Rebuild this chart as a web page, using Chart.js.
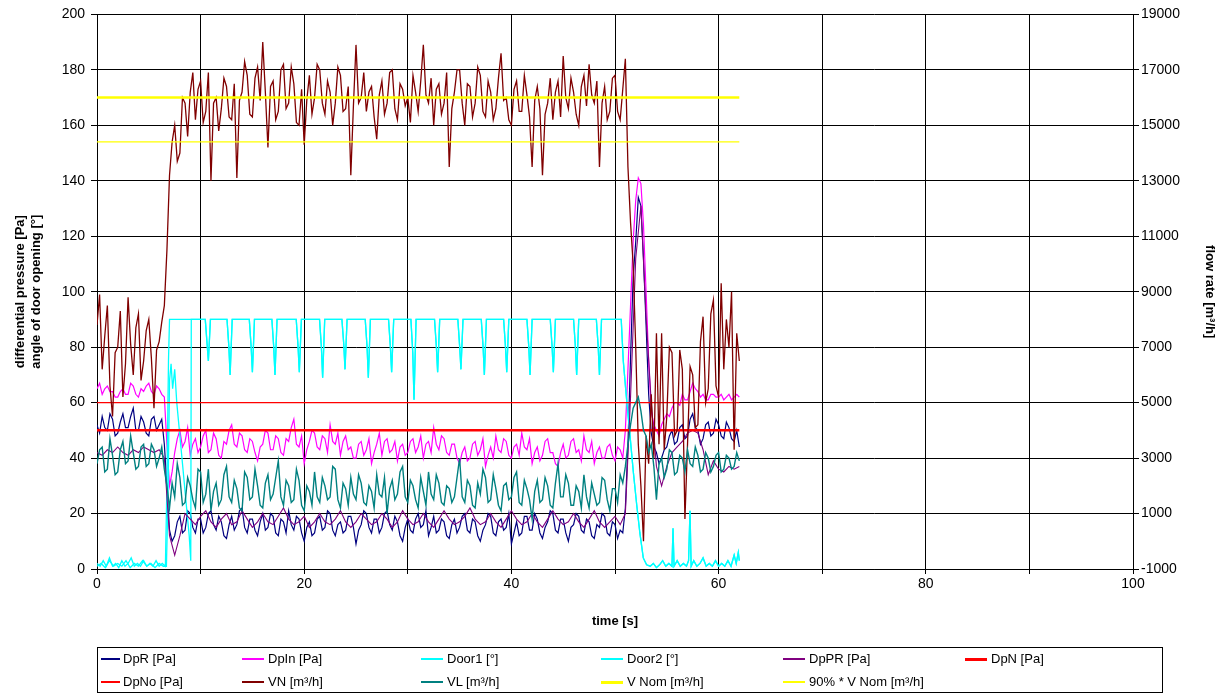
<!DOCTYPE html>
<html>
<head>
<meta charset="utf-8">
<script src="https://cdn.jsdelivr.net/npm/chart.js@4.4.1/dist/chart.umd.min.js"></script>
<style>
  body { margin: 0; background: #fff; }
  #wrap { position: relative; width: 1230px; height: 694px; }
  #legend {
    position: absolute; left: 97px; top: 647px; width: 1064px; height: 44px;
    border: 1px solid #000; box-sizing: content-box;
    font: 13px "Liberation Sans", Arial, sans-serif; color: #000;
  }
  .sample { position: absolute; }
  .label { position: absolute; line-height: 16px; white-space: nowrap; }
</style>
</head>
<body>
<div id="wrap">
  <canvas id="chart" width="1230" height="694"></canvas>
  <div id="legend"></div>
</div>
<script>
// sampling steps of the measured series, seconds
const fineStep = 0.25;
const coarseStep = 0.5;

// pressure readings [Pa], every 0.25 s from 0 to 62 s
const dpR = [
  52, 49, 55, 51, 50, 56, 54, 48, 49, 53, 56, 51, 51, 55, 58, 50, 50, 55, 53, 49,
  48, 54, 55, 50, 52, 54, 45, 30, 14, 10, 12, 17, 19, 13, 14, 21, 20, 15, 13, 18,
  18, 13, 15, 20, 21, 16, 14, 19, 17, 12, 11, 16, 19, 14, 16, 21, 22, 15, 13, 18,
  18, 14, 12, 17, 20, 14, 15, 20, 19, 13, 12, 18, 17, 13, 21, 16, 14, 19, 18, 13,
  10, 15, 17, 12, 13, 18, 19, 14, 15, 21, 20, 14, 12, 16, 17, 13, 14, 19, 19, 15,
  9, 14, 16, 21, 20, 15, 13, 18, 18, 13, 15, 20, 21, 16, 14, 19, 17, 12, 10, 15,
  18, 14, 13, 18, 20, 15, 16, 21, 12, 15, 19, 13, 14, 18, 17, 12, 11, 16, 18, 13,
  15, 19, 20, 14, 13, 18, 17, 12, 10, 14, 16, 20, 19, 13, 12, 17, 18, 14, 15, 20,
  9, 13, 17, 12, 13, 19, 19, 14, 14, 20, 18, 13, 11, 15, 17, 21, 20, 14, 13, 18,
  18, 13, 10, 15, 16, 20, 19, 14, 13, 18, 17, 12, 11, 16, 15, 20, 19, 13, 12, 17,
  16, 11, 14, 13, 22, 45, 76, 105, 118, 134, 131, 112, 88, 63, 49, 44, 42, 38, 40, 43,
  44, 48, 50, 45, 46, 51, 52, 47, 48, 54, 56, 51, 50, 45, 47, 52, 53, 48, 49, 54,
  52, 48, 47, 53, 51, 47, 46, 50, 44
];
const dpIn = [
  65, 67, 63, 65, 66, 64, 64, 62, 62, 64, 65, 63, 63, 67, 66, 63, 62, 65, 64, 66,
  67, 64, 63, 66, 65, 63, 62, 45, 30, 35, 42, 47, 50, 44, 46, 51, 41, 45, 47, 42,
  44, 48, 50, 42, 43, 49, 47, 41, 40, 46, 45, 50, 52, 45, 44, 49, 48, 43, 42, 47,
  46, 42, 39, 44, 45, 50, 49, 43, 43, 48, 47, 42, 41, 47, 46, 51, 54, 45, 44, 48,
  38, 43, 46, 50, 49, 44, 43, 48, 47, 42, 52, 46, 45, 49, 41, 46, 48, 43, 44, 40,
  40, 45, 46, 41, 43, 47, 38, 42, 45, 49, 41, 46, 47, 42, 43, 46, 39, 44, 45, 41,
  42, 46, 47, 42, 44, 48, 40, 45, 46, 42, 51, 45, 43, 48, 47, 42, 41, 45, 45, 40,
  38, 42, 44, 39, 40, 45, 46, 41, 43, 47, 37, 41, 44, 40, 48, 43, 42, 47, 46, 41,
  40, 44, 45, 41, 49, 44, 43, 47, 38, 42, 44, 39, 41, 46, 47, 42, 42, 38, 37, 42,
  45, 40, 41, 46, 47, 42, 43, 39, 48, 43, 42, 46, 38, 42, 44, 40, 40, 44, 45, 41,
  39, 44, 43, 40, 50, 72, 95, 118, 133, 141, 139, 124, 100, 75, 57, 52, 50, 48, 52, 54,
  56, 55, 58, 60, 60, 59, 63, 61, 61, 64, 67, 65, 64, 62, 63, 61, 61, 63, 63, 62,
  62, 63, 61, 62, 63, 61, 62, 63, 62
];
// smoother pressure signal, every 0.5 s
const dpPR = [
  42, 41, 43, 42, 44, 42, 41, 43, 42, 44,
  43, 42, 43, 40, 12, 5, 12, 20, 18, 16,
  19, 21, 17, 15, 18, 20, 16, 17, 21, 18,
  15, 17, 20, 17, 16, 19, 22, 18, 16, 17,
  19, 15, 17, 20, 17, 16, 18, 21, 17, 15,
  17, 20, 18, 16, 17, 20, 18, 15, 17, 21,
  18, 16, 17, 20, 17, 15, 18, 21, 18, 16,
  17, 19, 22, 18, 16, 17, 20, 17, 15, 18,
  21, 18, 16, 17, 20, 17, 15, 18, 21, 18,
  16, 17, 20, 17, 15, 18, 21, 17, 15, 17,
  19, 16, 20, 62, 112, 131, 91, 60, 37, 30,
  37, 42, 44, 46, 49, 50, 49, 43, 34, 39,
  36, 35, 37, 36, 37
];

// flow readings [m³/h], every 0.25 s
const vn = [
  7800, 8900, 6200, 7400, 8500, 5600, 4500, 6800, 7000, 8300, 5200, 6400, 8800, 7100, 6000, 7700, 8200, 5800, 6500, 7600,
  8000, 6600, 4800, 6900, 7200, 7900, 8500, 10500, 13200, 14400, 15000, 13700, 14000, 16000, 15800, 14600, 16200, 16900, 15200, 16300,
  16600, 15100, 15500, 16900, 13000, 15800, 16000, 14800, 15600, 16700, 16400, 15300, 15200, 16500, 13100, 15900, 16200, 17300, 16800, 15400,
  15300, 16700, 17100, 15900, 18000, 16200, 14200, 16400, 16600, 15200, 15500, 17000, 17200, 15600, 15800, 17100, 16500, 15100, 15000, 16300,
  14300, 15900, 16800, 15400, 16000, 17200, 17000, 15800, 15400, 16600, 16200, 15000, 15800, 17100, 16800, 15500, 15600, 16400, 13200, 15700,
  17900, 15800, 16000, 16900, 15500, 16200, 16400, 15300, 14500, 16100, 16600, 15400, 15800, 16900, 17000, 15600, 15200, 16500, 16300, 15700,
  16000, 15100, 16800, 16200, 15500, 16600, 17900, 16100, 15800, 16700, 15000, 16300, 16500, 15400, 15800, 16900, 13500, 15600, 16200, 17000,
  17000, 15800, 15000, 16500, 16400, 15300, 15800, 17100, 16800, 15500, 15300, 16600, 16200, 15200, 15600, 16700, 17600, 15900, 16000, 15200,
  15000, 16300, 16600, 15500, 15500, 16800, 16100, 15300, 13500, 15900, 16400, 15600, 13200, 15400, 15800, 16700, 15200, 16200, 16600, 15300,
  17500, 16000, 15600, 16700, 16200, 15400, 15000, 16400, 16800, 15700, 17200, 16100, 15800, 16600, 13500, 15800, 16400, 15200, 15500, 16700,
  16800, 15500, 15200, 16300, 17400, 13500, 11500, 10000, 7000, 3500, 2000, 0, 3800, 2800, 5300, 3000, 7500, 3500, 7500, 3300,
  4500, 7000, 6800, 3800, 4000, 6900, 6200, 800, 3500, 6300, 6000, 4100, 4200, 7200, 8100, 5000, 5500, 8200, 8700, 5600,
  5200, 9300, 6200, 8000, 7000, 9000, 3300, 7500, 6500
];
const vl = [
  2800, 3300, 3400, 2500, 2600, 3700, 3100, 2400, 2500, 3300, 3600, 2800, 2900, 3800, 3200, 2600, 2700, 3400, 3500, 2700,
  2800, 3500, 3300, 2700, 3000, 3400, 2600, 2000, 1200, 2100, 1600, 2800, 2300, 1300, 1400, 2300, 2000, 1500, 1200, 2600,
  2500, 1400, 1700, 2600, 1100, 1800, 2100, 1300, 1500, 2400, 2700, 1600, 1400, 2200, 1900, 1200, 1100, 2500, 2300, 1500,
  1600, 2600, 2000, 1300, 1200, 2100, 2400, 1500, 1700, 2300, 2900, 1600, 1300, 2200, 2000, 1400, 1500, 2600, 2200, 1300,
  1100, 2000, 1800, 1300, 2500, 1600, 1400, 2300, 2000, 1500, 1600, 2700, 2600, 1500, 1200, 2100, 1900, 1300, 2300, 1700,
  1500, 2400, 2100, 1400, 1300, 2000, 1800, 1200, 2400, 1700, 1600, 2300, 1000, 1900, 2200, 1500, 1700, 2500, 2700, 1600,
  1400, 2200, 2000, 1500, 1200, 2300, 1800, 1300, 2500, 1700, 1500, 2400, 2100, 1400, 1300, 2000, 1900, 1400, 1600, 2300,
  3000, 1600, 1400, 2200, 2000, 1300, 1200, 2100, 1700, 2600, 2300, 1400, 1500, 2400, 1900, 1300, 1100, 2000, 2100, 1500,
  1600, 2300, 2500, 1400, 1300, 2200, 1900, 1500, 800, 1800, 2200, 1400, 1500, 2300, 2000, 1300, 1200, 2100, 2800, 1600,
  1600, 2400, 2100, 1300, 1300, 2000, 1800, 1200, 2400, 1600, 1200, 2100, 1700, 1300, 1400, 2300, 2200, 1500, 1100, 1900,
  1900, 1400, 2400, 2100, 2700, 3500, 4200, 4800, 5000, 5200, 4700, 4000, 3800, 3200, 3500, 2700, 1500, 2800, 3000, 2300,
  2600, 3300, 3200, 2400, 2500, 3100, 3000, 2500, 3300, 2800, 2700, 3400, 3100, 2500, 2600, 3200, 3000, 2500, 2700, 3100,
  3200, 2500, 2600, 3100, 3000, 2600, 2700, 3200, 2900
];

// door angles [°], read at their own break points
const door1Time = [
  0, 0.3, 0.6, 0.9, 1.2, 1.5, 1.8, 2.1, 2.4, 2.7, 3, 3.3, 3.6,
  3.9, 4.2, 4.5, 4.8, 5.1, 5.4, 5.7, 6, 6.3, 6.6, 6.75, 6.9, 7,
  10.45, 10.63, 10.75, 10.95,
  12.55, 12.73, 12.85, 13.05,
  14.7, 14.88, 15, 15.2,
  16.88, 17.06, 17.18, 17.38,
  19.23, 19.41, 19.53, 19.73,
  21.48, 21.66, 21.78, 21.98,
  23.64, 23.82, 23.94, 24.14,
  25.89, 26.07, 26.19, 26.39,
  28.14, 28.32, 28.44, 28.64,
  30.3, 30.48, 30.6, 30.8,
  32.58, 32.76, 32.88, 33.08,
  34.83, 35.01, 35.13, 35.33,
  37.09, 37.27, 37.39, 37.59,
  39.25, 39.43, 39.55, 39.75,
  41.5, 41.68, 41.8, 42,
  43.75, 43.93, 44.05, 44.25,
  46, 46.18, 46.3, 46.5,
  48.2, 48.38, 48.5, 48.7,
  50.6, 50.8, 51.1, 51.45, 51.77, 52.1, 52.4, 52.73, 53.05,
  53.4, 53.7, 54, 54.3, 54.6, 54.9, 55.2, 55.5, 55.6, 55.7,
  56, 56.3, 56.6, 56.9, 57.1, 57.24, 57.35, 57.6, 57.9, 58.2,
  58.5, 58.8, 59.1, 59.4, 59.7, 60, 60.3, 60.6, 60.9, 61.2,
  61.5, 61.7, 61.9, 62
];
const door1Angle = [
  2, 1, 3, 1, 4, 1, 2, 0.5, 3, 1, 2, 4, 1,
  2, 1, 3, 1, 2, 1, 3, 1, 2, 1, 30, 75, 90,
  90, 81, 75, 90,
  90, 80, 70, 90,
  90, 80, 71, 90,
  90, 80, 70, 90,
  90, 80, 71, 90,
  90, 80, 69, 90,
  90, 81, 72, 90,
  90, 80, 69, 90,
  90, 80, 71, 90,
  90, 78, 61, 90,
  90, 80, 71, 90,
  90, 80, 72, 90,
  90, 80, 70, 90,
  90, 80, 71, 90,
  90, 80, 70, 90,
  90, 80, 71, 90,
  90, 80, 70, 90,
  90, 80, 70, 90,
  90, 75, 62, 48, 35, 23, 13, 4, 1.5,
  1, 2, 0.5, 1.5, 3, 1, 2, 1, 14.7, 1,
  3, 1, 2, 1, 3, 21, 1, 3, 1, 2,
  4, 1, 2, 1, 3, 1, 2, 1, 3, 1,
  5, 2, 6, 3
];
const door2Time = [
  0, 0.4, 0.8, 1.2, 1.6, 2, 2.4, 2.8, 3.2, 3.6, 4, 4.4, 4.8, 5.2, 5.6,
  6, 6.4, 6.7, 6.85, 7, 7.15, 7.3, 7.5, 7.7, 8, 8.3, 8.6, 8.9, 9.05, 9.1
];
const door2Angle = [
  1, 2, 0.5, 3, 1, 2, 1, 3, 0.5, 2, 1, 3, 1, 2, 0.5,
  2, 1, 1, 25, 68, 74, 65, 72, 60, 48, 36, 24, 12, 3, 90
];

// nominal limits, drawn from start to end of the record
const limitTime = [0, 62];
const dpN = [50, 50];
const dpNo = [60, 60];
const vNom = [16000, 16000];
const vNom90 = [14400, 14400];

const timeFine = dpR.map((_, i) => i * fineStep);
const timeCoarse = dpPR.map((_, i) => i * coarseStep);

function pts(t, v) {
  return t.map((x, i) => ({ x: x, y: v[i] }));
}

// door 2 follows door 1 once both are open
const door2Pts = pts(door2Time, door2Angle).concat(
  pts(door1Time, door1Angle).filter(p => p.x > 9.1)
);

const series = [
  { label: "DpR [Pa]", data: pts(timeFine, dpR), borderColor: "#000080", borderWidth: 1.2, yAxisID: "y" },
  { label: "DpIn [Pa]", data: pts(timeFine, dpIn), borderColor: "#FF00FF", borderWidth: 1.2, yAxisID: "y" },
  { label: "Door1 [°]", data: pts(door1Time, door1Angle), borderColor: "#00FFFF", borderWidth: 1.3, yAxisID: "y" },
  { label: "Door2 [°]", data: door2Pts, borderColor: "#00FFFF", borderWidth: 1.3, yAxisID: "y" },
  { label: "DpPR [Pa]", data: pts(timeCoarse, dpPR), borderColor: "#800080", borderWidth: 1.1, yAxisID: "y" },
  { label: "DpN [Pa]", data: pts(limitTime, dpN), borderColor: "#FF0000", borderWidth: 2.5, yAxisID: "y" },
  { label: "DpNo [Pa]", data: pts(limitTime, dpNo), borderColor: "#FF0000", borderWidth: 1.2, yAxisID: "y" },
  { label: "VN [m³/h]", data: pts(timeFine, vn), borderColor: "#800000", borderWidth: 1.3, yAxisID: "y1" },
  { label: "VL [m³/h]", data: pts(timeFine, vl), borderColor: "#008080", borderWidth: 1.4, yAxisID: "y1" },
  { label: "V Nom [m³/h]", data: pts(limitTime, vNom), borderColor: "#FFFF00", borderWidth: 2.5, yAxisID: "y1" },
  { label: "90% * V Nom [m³/h]", data: pts(limitTime, vNom90), borderColor: "#FFFF00", borderWidth: 1.2, yAxisID: "y1" }
];

const family = "'Liberation Sans', Arial, sans-serif";
const tickFont = { family: family, size: 14 };
const titleFont = { family: family, size: 13, weight: "bold", lineHeight: 1.25 };

const ctx = document.getElementById("chart").getContext("2d");
const myChart = new Chart(ctx, {
  type: "line",
  data: {
    datasets: series.map((s, i) => Object.assign({
      pointRadius: 0,
      tension: 0,
      fill: false,
      order: series.length - i
    }, s))
  },
  options: {
    responsive: false,
    animation: false,
    layout: { padding: { top: 13, bottom: 64, left: 0, right: 0 } },
    plugins: {
      legend: { display: false },
      tooltip: { enabled: false }
    },
    scales: {
      x: {
        type: "linear",
        min: 0,
        max: 100,
        ticks: {
          stepSize: 10,
          autoSkip: false,
          maxRotation: 0,
          color: "#000",
          font: tickFont,
          padding: 2,
          callback: v => (v % 20 === 0 ? String(v) : "")
        },
        grid: { color: "#000", tickLength: 5 },
        border: { color: "#000" },
        title: { display: true, text: "time [s]", color: "#000", font: titleFont, padding: 0 },
        afterFit: s => { s.height = 61; }
      },
      y: {
        position: "left",
        min: 0,
        max: 200,
        ticks: { stepSize: 20, color: "#000", font: tickFont, padding: 6, callback: v => String(v) },
        grid: { color: "#000", tickLength: 6 },
        border: { color: "#000" },
        title: {
          display: true,
          text: ["differential pressure [Pa]", "angle of door opening [°]"],
          color: "#000",
          font: titleFont,
          padding: { top: 12, bottom: 0 }
        },
        afterFit: s => { s.width = 97; }
      },
      y1: {
        position: "right",
        min: -1000,
        max: 19000,
        ticks: { stepSize: 2000, color: "#000", font: tickFont, padding: 2, callback: v => String(v) },
        grid: { drawOnChartArea: false, color: "#000", tickLength: 6 },
        border: { color: "#000" },
        title: {
          display: true,
          text: "flow rate [m³/h]",
          color: "#000",
          font: titleFont,
          padding: { top: 12, bottom: 0 }
        },
        afterFit: s => { s.width = 97; }
      }
    }
  }
});

// legend box under the plot, two rows of six columns
const legend = document.getElementById("legend");
const sampleX = [3, 144, 323, 503, 685, 867];
const textX = [25, 170, 349, 529, 711, 893];
const rowY = [11, 34];
series.forEach((s, i) => {
  const col = i % 6;
  const row = Math.floor(i / 6);
  const h = s.borderWidth >= 2 ? 3 : 2;
  const line = document.createElement("div");
  line.className = "sample";
  line.style.left = sampleX[col] + "px";
  line.style.width = (col === 0 ? 19 : 22) + "px";
  line.style.top = (rowY[row] - Math.floor(h / 2)) + "px";
  line.style.height = h + "px";
  line.style.background = s.borderColor;
  legend.appendChild(line);
  const label = document.createElement("div");
  label.className = "label";
  label.style.left = textX[col] + "px";
  label.style.top = (rowY[row] - 8) + "px";
  label.textContent = s.label;
  legend.appendChild(label);
});
</script>
</body>
</html>
